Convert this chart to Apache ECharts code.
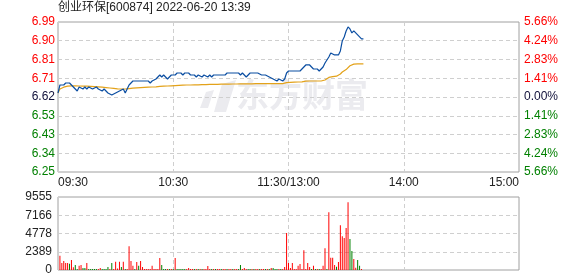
<!DOCTYPE html>
<html>
<head>
<meta charset="utf-8">
<script src="https://cdn.jsdelivr.net/npm/echarts@6/dist/echarts.min.js"></script>
<style>
html,body{margin:0;padding:0;background:#fff;}
#c{width:578px;height:276px;}
</style>
</head>
<body>
<div id="c"></div>
<script>
const titleText = '创业环保[600874] 2022-06-20 13:39';
const prevClose = 6.62;
const timeLabels = ['09:30', '10:30', '11:30/13:00', '14:00', '15:00'];
const priceTickLabels = ['6.25', '6.34', '6.43', '6.53', '6.62', '6.71', '6.81', '6.90', '6.99'];
const pctTickLabels = ['5.66%', '4.24%', '2.83%', '1.41%', '0.00%', '1.41%', '2.83%', '4.24%', '5.66%'];
const volTickLabels = ['0', '2389', '4778', '7166', '9555'];

// per-minute price, minute 0 = 09:30
const prices = [
  6.64, 6.68, 6.68, 6.68, 6.69, 6.69, 6.69, 6.68, 6.68, 6.66,
  6.65, 6.67, 6.67, 6.66, 6.67, 6.66, 6.67, 6.67, 6.66, 6.66,
  6.67, 6.66, 6.66, 6.65, 6.66, 6.65, 6.64, 6.64, 6.63, 6.63,
  6.64, 6.64, 6.65, 6.65, 6.66, 6.64, 6.66, 6.68, 6.69, 6.70,
  6.70, 6.70, 6.70, 6.70, 6.70, 6.70, 6.70, 6.70, 6.69, 6.70,
  6.70, 6.71, 6.72, 6.73, 6.72, 6.73, 6.72, 6.71, 6.72, 6.73,
  6.73, 6.73, 6.74, 6.74, 6.74, 6.73, 6.74, 6.74, 6.74, 6.73,
  6.73, 6.73, 6.72, 6.73, 6.73, 6.72, 6.73, 6.73, 6.72, 6.73,
  6.72, 6.73, 6.73, 6.73, 6.73, 6.73, 6.73, 6.73, 6.74, 6.74,
  6.74, 6.74, 6.74, 6.74, 6.74, 6.73, 6.74, 6.73, 6.72, 6.73,
  6.74, 6.74, 6.74, 6.74, 6.74, 6.74, 6.73, 6.73, 6.73, 6.73,
  6.72, 6.72, 6.71, 6.71, 6.70, 6.71, 6.71, 6.70, 6.71, 6.74,
  6.75, 6.75, 6.75, 6.75, 6.75, 6.75, 6.75, 6.75, 6.77, 6.78,
  6.78, 6.78, 6.77, 6.76, 6.76, 6.76, 6.75, 6.76, 6.77, 6.79,
  6.79, 6.82, 6.84, 6.84, 6.83, 6.83, 6.83, 6.85, 6.90, 6.92,
  6.95, 6.97, 6.96, 6.94, 6.95, 6.95, 6.93, 6.92, 6.91, 6.91
];

// per-minute average price
const avgPrices = [
  6.640, 6.660, 6.666, 6.669, 6.672, 6.674, 6.675, 6.676, 6.676, 6.676,
  6.675, 6.675, 6.675, 6.674, 6.674, 6.674, 6.673, 6.673, 6.673, 6.672,
  6.672, 6.671, 6.670, 6.669, 6.668, 6.667, 6.666, 6.665, 6.664, 6.663,
  6.662, 6.661, 6.661, 6.660, 6.660, 6.660, 6.660, 6.662, 6.663, 6.664,
  6.665, 6.666, 6.667, 6.667, 6.668, 6.668, 6.669, 6.669, 6.670, 6.670,
  6.671, 6.671, 6.672, 6.673, 6.674, 6.674, 6.675, 6.675, 6.676, 6.676,
  6.677, 6.677, 6.678, 6.678, 6.679, 6.679, 6.679, 6.680, 6.680, 6.680,
  6.680, 6.681, 6.681, 6.681, 6.681, 6.682, 6.682, 6.682, 6.682, 6.683,
  6.683, 6.683, 6.683, 6.683, 6.684, 6.684, 6.684, 6.684, 6.684, 6.684,
  6.685, 6.685, 6.685, 6.685, 6.685, 6.686, 6.686, 6.686, 6.686, 6.686,
  6.686, 6.686, 6.686, 6.687, 6.687, 6.687, 6.687, 6.687, 6.687, 6.687,
  6.687, 6.687, 6.687, 6.687, 6.687, 6.687, 6.687, 6.687, 6.687, 6.692,
  6.693, 6.693, 6.694, 6.694, 6.695, 6.695, 6.696, 6.696, 6.698, 6.699,
  6.700, 6.700, 6.700, 6.700, 6.700, 6.700, 6.700, 6.700, 6.701, 6.705,
  6.705, 6.718, 6.720, 6.722, 6.723, 6.724, 6.725, 6.735, 6.745, 6.752,
  6.757, 6.765, 6.776, 6.782, 6.784, 6.785, 6.785, 6.785, 6.785, 6.785
];

// per-minute volume
const volumes = [
  0, 1860, 910, 1170, 910, 910, 820, 1300, 350, 650,
  130, 560, 650, 260, 260, 910, 130, 130, 130, 130,
  130, 130, 260, 130, 130, 130, 390, 130, 910, 130,
  1080, 200, 1080, 390, 1080, 130, 130, 3115, 1170, 560,
  130, 1040, 560, 1170, 390, 130, 130, 130, 130, 560,
  130, 130, 130, 1560, 650, 130, 130, 130, 130, 130,
  130, 1560, 130, 130, 130, 130, 130, 130, 260, 130,
  130, 130, 130, 130, 130, 130, 130, 130, 520, 130,
  130, 130, 130, 130, 130, 130, 130, 130, 130, 130,
  130, 130, 130, 130, 130, 650, 130, 260, 130, 130,
  130, 130, 130, 130, 130, 130, 130, 130, 130, 130,
  130, 260, 260, 130, 130, 130, 130, 130, 390, 4850,
  910, 260, 910, 130, 130, 560, 780, 130, 2600, 130,
  910, 390, 130, 560, 130, 130, 130, 130, 560, 2855,
  130, 7570, 1600, 1600, 670, 430, 1060, 5860, 4430, 4200,
  5500, 8870, 4050, 2490, 1450, 300, 1320, 540, 130, 0
];

// per-minute bar direction: 1 = up (red), -1 = down (green)
const volDirs = [
  1, 1, 1, 1, 1, 1, -1, 1, 1, -1,
  -1, 1, 1, -1, -1, 1, -1, -1, -1, -1,
  -1, 1, 1, -1, -1, -1, -1, 1, -1, 1,
  1, 1, 1, -1, 1, -1, 1, 1, 1, 1,
  -1, 1, -1, 1, 1, 1, 1, 1, 1, 1,
  1, 1, 1, 1, -1, -1, -1, 1, -1, 1,
  -1, 1, -1, -1, -1, -1, -1, 1, 1, 1,
  1, -1, 1, -1, 1, -1, 1, 1, 1, 1,
  -1, 1, -1, 1, 1, -1, 1, 1, -1, 1,
  1, -1, 1, 1, -1, -1, 1, 1, 1, -1,
  -1, 1, -1, 1, 1, -1, 1, 1, -1, 1,
  -1, 1, -1, -1, -1, 1, -1, 1, 1, 1,
  1, 1, 1, 1, 1, 1, 1, 1, 1, 1,
  1, 1, -1, 1, -1, 1, -1, 1, 1, 1,
  -1, 1, 1, 1, 1, -1, 1, 1, 1, 1,
  1, 1, -1, -1, 1, 1, -1, -1, 1, 1
];

const RED = '#ff0000', GREEN = '#008000', DARK = '#10103a';
const PCT_MAX = 5.66, PCT_STEP = 1.415;
const VOL_MAX = 9555, VOL_STEP = 2388.75;
const toPct = p => (p / prevClose - 1) * 100;

const priceData = prices.map((p, i) => [i, toPct(p)]);
const avgData = avgPrices.map((p, i) => [i, toPct(p)]);
const volData = volumes.map((v, i) => ({
  value: [i, v],
  itemStyle: { color: volDirs[i] > 0 ? RED : GREEN }
}));

const pctIdx = v => Math.round((v + PCT_MAX) / PCT_STEP);
const pctColor = v => v > 0.001 ? RED : (v < -0.001 ? GREEN : DARK);

const dashed = { show: true, lineStyle: { color: '#cfcfcf', type: [4, 3], width: 1 } };
const fontFam = 'Arial, "Liberation Sans", sans-serif';

const chart = echarts.init(document.getElementById('c'), null, { renderer: 'canvas' });
chart.setOption({
  animation: false,
  backgroundColor: '#fff',
  grid: [
    { left: 58, top: 22, width: 461, height: 150, show: true, borderColor: '#a0a0a0', borderWidth: 1, backgroundColor: 'transparent' },
    { left: 58, top: 197, width: 461, height: 73, show: true, borderColor: '#a0a0a0', borderWidth: 1, backgroundColor: 'transparent' }
  ],
  graphic: [
    { type: 'text', left: 58, top: 2, z: 10, style: { text: titleText, font: '12px Arial, "Noto Sans CJK SC", sans-serif', fill: '#222' } },
    { type: 'text', left: 236, top: 78, z: -1, silent: true, style: { text: '东方财富', font: 'bold 33px "Noto Sans CJK SC", sans-serif', fill: '#ebebef' } },
    { type: 'polygon', z: -1, silent: true, shape: { points: [[214, 112], [222, 84], [236, 80], [226, 112]] }, style: { fill: '#ebebef' } },
    { type: 'polygon', z: -1, silent: true, shape: { points: [[200, 108], [206, 92], [214, 90], [208, 108]] }, style: { fill: '#ebebef' } }
  ],
  xAxis: [
    {
      type: 'value', gridIndex: 0, min: 0, max: 240, interval: 60,
      axisLine: { show: false }, axisTick: { show: false },
      splitLine: dashed,
      axisLabel: {
        show: true, margin: 5, color: '#222', fontSize: 12, fontFamily: fontFam,
        alignMinLabel: 'left', alignMaxLabel: 'right',
        formatter: v => timeLabels[Math.round(v / 60)]
      }
    },
    {
      type: 'value', gridIndex: 1, min: 0, max: 240, interval: 60,
      axisLine: { show: false }, axisTick: { show: false },
      splitLine: dashed, axisLabel: { show: false }
    }
  ],
  yAxis: [
    {
      type: 'value', gridIndex: 0, min: -PCT_MAX, max: PCT_MAX, interval: PCT_STEP,
      axisLine: { show: false }, axisTick: { show: false },
      splitLine: dashed,
      axisLabel: {
        margin: 3, fontSize: 12, fontFamily: fontFam,
        formatter: v => priceTickLabels[pctIdx(v)],
        color: v => pctColor(v)
      }
    },
    {
      type: 'value', gridIndex: 0, position: 'right', min: -PCT_MAX, max: PCT_MAX, interval: PCT_STEP,
      axisLine: { show: false }, axisTick: { show: false },
      splitLine: { show: false },
      axisLabel: {
        margin: 5, fontSize: 12, fontFamily: fontFam,
        formatter: v => pctTickLabels[8 - pctIdx(v)],
        color: v => pctColor(v)
      }
    },
    {
      type: 'value', gridIndex: 1, min: 0, max: VOL_MAX, interval: VOL_STEP,
      axisLine: { show: false }, axisTick: { show: false },
      splitLine: dashed,
      axisLabel: {
        margin: 6, fontSize: 12, fontFamily: fontFam, color: '#222',
        formatter: v => volTickLabels[Math.round(v / VOL_STEP)]
      }
    }
  ],
  series: [
    {
      type: 'bar', xAxisIndex: 1, yAxisIndex: 2, data: volData,
      barWidth: 1, z: 3
    },
    {
      type: 'line', xAxisIndex: 0, yAxisIndex: 0, data: avgData,
      showSymbol: false, symbol: 'none', lineStyle: { color: '#e3a21a', width: 1.2 }, z: 4
    },
    {
      type: 'line', xAxisIndex: 0, yAxisIndex: 0, data: priceData,
      showSymbol: false, symbol: 'none', lineStyle: { color: '#0b4ea2', width: 1.2 }, z: 5
    }
  ]
});
</script>
</body>
</html>
